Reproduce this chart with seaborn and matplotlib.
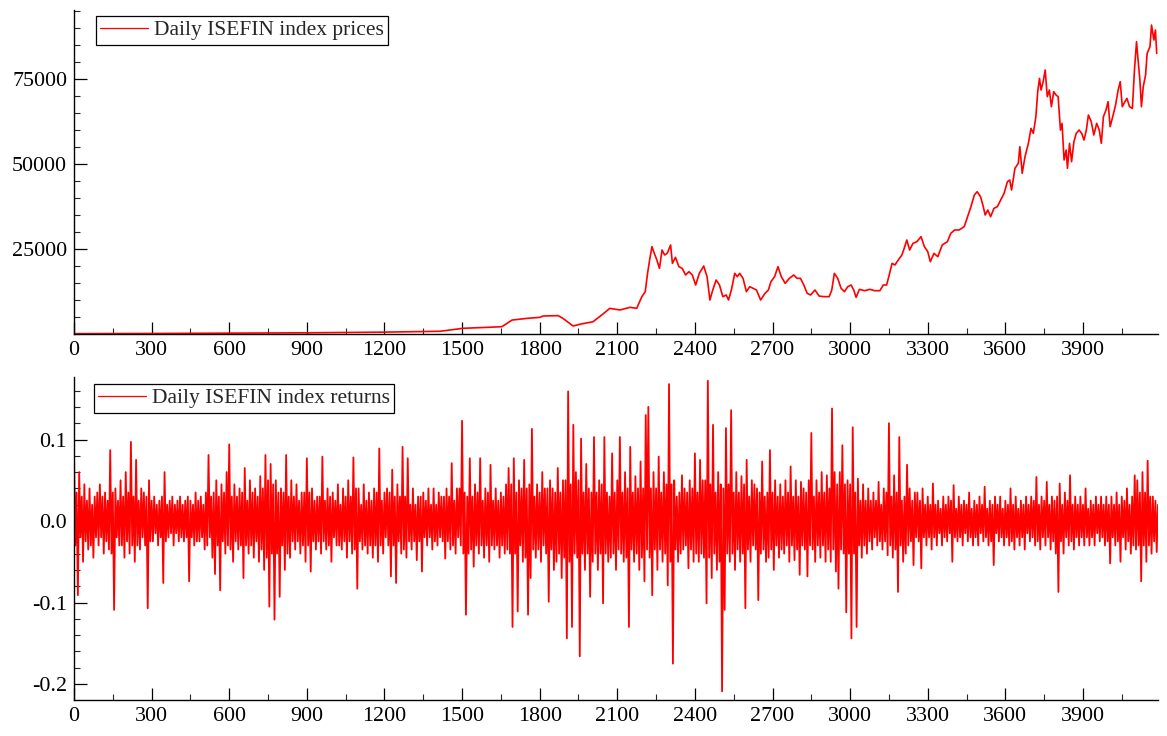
import numpy as np
import pandas as pd
import matplotlib
matplotlib.use("Agg")
import matplotlib.pyplot as plt
from matplotlib.ticker import MultipleLocator, FixedLocator, FixedFormatter
import seaborn as sns

# ---------------- data ----------------
# (day, index price) readings
price_readings = [
    (0, 100), (300, 150), (600, 250), (900, 350), (1050, 450), (1200, 550), (1325, 700),
    (1415, 800), (1504, 1680), (1580, 1900), (1654, 2150), (1693, 4100), (1751, 4600),
    (1801, 4900), (1813, 5300), (1871, 5400), (1890, 4600), (1929, 2350), (1960, 2940),
    (2006, 3600), (2045, 5900), (2071, 7550), (2110, 7060),
    (2149, 7840), (2175, 7550), (2195, 10980), (2208, 12450), (2217, 17840), (2225, 21760),
    (2234, 25690), (2243, 23730), (2253, 21760), (2263, 19310), (2273, 24710), (2283, 23230),
    (2293, 23730), (2306, 26180), (2313, 20780), (2325, 22550), (2338, 19800), (2351, 19310),
    (2364, 17350), (2377, 18330), (2390, 17350), (2403, 14410), (2417, 17840), (2434, 20000),
    (2447, 16860), (2458, 10000), (2469, 12940), (2482, 15880), (2495, 14410), (2508, 10980),
    (2521, 11470), (2530, 10000), (2541, 12940), (2554, 17840), (2564, 16860), (2573, 17840),
    (2586, 16370), (2599, 12450), (2612, 13920), (2625, 13430), (2638, 12940), (2654, 10000),
    (2671, 11960), (2684, 12940), (2694, 15390), (2708, 16860), (2721, 19800), (2734, 16860),
    (2749, 14900), (2765, 16370), (2782, 17350), (2795, 16370), (2808, 16370), (2821, 14410),
    (2834, 11960), (2847, 11470), (2864, 12940), (2880, 11170), (2899, 10980), (2919, 10980),
    (2929, 12940), (2939, 17840), (2952, 16370), (2965, 13430), (2978, 12450), (2991, 13920),
    (3004, 14410), (3014, 12940), (3023, 10780), (3036, 13140), (3056, 12740), (3076, 13140),
    (3095, 12740), (3115, 12740), (3128, 14410), (3141, 14410), (3151, 17350), (3162, 20780),
    (3173, 20290), (3186, 21760), (3200, 23230), (3209, 25190), (3219, 27650), (3230, 24710),
    (3243, 26670), (3258, 27160), (3274, 28630), (3287, 25690), (3300, 24210), (3310, 21270),
    (3324, 23730), (3339, 22740), (3356, 26180), (3376, 27160), (3389, 29610), (3404, 30590),
    (3421, 30590), (3441, 31570), (3454, 34510), (3467, 37450), (3480, 40880), (3491, 41860),
    (3504, 40390), (3513, 37940), (3522, 34990), (3532, 36470), (3543, 34510), (3556, 36960),
    (3569, 37450), (3582, 39410), (3595, 41370), (3608, 44800), (3617, 45290), (3624, 42350),
    (3637, 48730), (3650, 50200), (3656, 55100), (3665, 47250), (3676, 52160), (3689, 56080),
    (3699, 60490), (3708, 59020), (3718, 63920), (3725, 71270), (3732, 75200), (3738, 71760),
    (3746, 74210), (3754, 77650), (3762, 69800), (3770, 71760), (3778, 66860), (3787, 71270),
    (3796, 70290), (3804, 69800), (3813, 59980), (3819, 61960), (3827, 51180), (3835, 54120),
    (3840, 48730), (3848, 56080), (3856, 50690), (3865, 56570), (3874, 59020), (3885, 60000),
    (3895, 59020), (3904, 57060), (3913, 60000), (3921, 64410), (3932, 62450), (3942, 58530),
    (3953, 61960), (3963, 60000), (3971, 56080), (3979, 63920), (3989, 65880), (3997, 68330),
    (4005, 60980), (4015, 63920), (4026, 67350), (4036, 71760), (4044, 74210), (4052, 66860),
    (4062, 68330), (4070, 69310), (4080, 66860), (4091, 66370), (4099, 77650), (4107, 85980),
    (4113, 80590), (4120, 74700), (4126, 66860), (4133, 72750), (4142, 76180), (4148, 82550),
    (4159, 84510), (4165, 90880), (4174, 86470), (4180, 89410), (4185, 82550),
]
price_days = [d for d, _ in price_readings]
price_values = [v for _, v in price_readings]

# daily returns: upper readings of the band at days 0, 10, ... 4190
returns_up = [
    0.085, 0.035, 0.060, 0.030, 0.045, 0.025, 0.040, 0.020, 0.030, 0.035,
    0.045, 0.030, 0.035, 0.025, 0.087, 0.035, 0.040, 0.025, 0.050, 0.030,
    0.060, 0.035, 0.097, 0.030, 0.075, 0.025, 0.040, 0.035, 0.030, 0.050,
    0.025, 0.030, 0.020, 0.025, 0.030, 0.060, 0.020, 0.025, 0.030, 0.020,
    0.025, 0.030, 0.020, 0.025, 0.030, 0.025, 0.020, 0.035, 0.025, 0.030,
    0.020, 0.035, 0.081, 0.030, 0.035, 0.050, 0.030, 0.045, 0.035, 0.060,
    0.094, 0.030, 0.045, 0.030, 0.040, 0.035, 0.065, 0.025, 0.050, 0.035,
    0.040, 0.030, 0.055, 0.040, 0.081, 0.050, 0.070, 0.045, 0.050, 0.035,
    0.040, 0.035, 0.081, 0.030, 0.050, 0.030, 0.045, 0.025, 0.035, 0.035,
    0.077, 0.035, 0.040, 0.025, 0.030, 0.030, 0.079, 0.025, 0.040, 0.030,
    0.035, 0.025, 0.045, 0.020, 0.040, 0.030, 0.050, 0.030, 0.078, 0.040,
    0.040, 0.020, 0.045, 0.025, 0.035, 0.025, 0.040, 0.035, 0.089, 0.025,
    0.035, 0.040, 0.035, 0.063, 0.030, 0.045, 0.030, 0.091, 0.030, 0.077,
    0.020, 0.040, 0.020, 0.030, 0.030, 0.035, 0.025, 0.040, 0.020, 0.040,
    0.020, 0.035, 0.030, 0.030, 0.040, 0.030, 0.071, 0.025, 0.040, 0.040,
    0.123, 0.035, 0.030, 0.077, 0.030, 0.045, 0.035, 0.077, 0.025, 0.040,
    0.035, 0.069, 0.025, 0.040, 0.025, 0.035, 0.030, 0.045, 0.065, 0.045,
    0.077, 0.035, 0.050, 0.040, 0.075, 0.040, 0.045, 0.113, 0.030, 0.045,
    0.035, 0.060, 0.040, 0.040, 0.050, 0.040, 0.035, 0.065, 0.035, 0.050,
    0.050, 0.159, 0.045, 0.118, 0.060, 0.050, 0.101, 0.035, 0.070, 0.040,
    0.035, 0.103, 0.035, 0.050, 0.045, 0.103, 0.035, 0.030, 0.083, 0.035,
    0.050, 0.103, 0.035, 0.060, 0.040, 0.091, 0.035, 0.055, 0.040, 0.073,
    0.040, 0.130, 0.140, 0.040, 0.060, 0.040, 0.079, 0.035, 0.060, 0.045,
    0.168, 0.045, 0.050, 0.030, 0.035, 0.056, 0.040, 0.035, 0.050, 0.040,
    0.083, 0.035, 0.075, 0.050, 0.050, 0.172, 0.045, 0.118, 0.035, 0.060,
    0.045, 0.040, 0.114, 0.045, 0.136, 0.035, 0.060, 0.035, 0.055, 0.045,
    0.075, 0.030, 0.050, 0.045, 0.040, 0.035, 0.073, 0.030, 0.035, 0.087,
    0.035, 0.050, 0.030, 0.045, 0.030, 0.050, 0.035, 0.067, 0.030, 0.050,
    0.030, 0.048, 0.040, 0.035, 0.050, 0.108, 0.030, 0.050, 0.035, 0.060,
    0.035, 0.056, 0.040, 0.138, 0.060, 0.045, 0.060, 0.093, 0.045, 0.050,
    0.045, 0.115, 0.035, 0.052, 0.025, 0.045, 0.025, 0.040, 0.025, 0.035,
    0.025, 0.048, 0.020, 0.040, 0.035, 0.120, 0.030, 0.056, 0.035, 0.103,
    0.025, 0.030, 0.069, 0.040, 0.025, 0.035, 0.035, 0.025, 0.040, 0.020,
    0.030, 0.020, 0.046, 0.020, 0.025, 0.015, 0.030, 0.020, 0.030, 0.025,
    0.044, 0.015, 0.030, 0.020, 0.025, 0.020, 0.035, 0.015, 0.025, 0.020,
    0.030, 0.020, 0.042, 0.015, 0.025, 0.020, 0.030, 0.020, 0.030, 0.015,
    0.025, 0.020, 0.040, 0.020, 0.030, 0.015, 0.025, 0.020, 0.030, 0.020,
    0.030, 0.025, 0.054, 0.020, 0.030, 0.025, 0.048, 0.020, 0.030, 0.025,
    0.030, 0.046, 0.020, 0.035, 0.025, 0.056, 0.020, 0.030, 0.020, 0.030,
    0.020, 0.040, 0.015, 0.025, 0.020, 0.030, 0.020, 0.030, 0.020, 0.030,
    0.020, 0.030, 0.020, 0.035, 0.020, 0.030, 0.025, 0.040, 0.020, 0.030,
    0.056, 0.050, 0.035, 0.060, 0.035, 0.074, 0.030, 0.030, 0.025, 0.020,
]
# daily returns: lower readings of the band at days 5, 15, ... 4195
returns_down = [
    -0.030, -0.091, -0.020, -0.050, -0.025, -0.035, -0.030, -0.045, -0.020, -0.030,
    -0.020, -0.040, -0.025, -0.035, -0.040, -0.109, -0.020, -0.030, -0.030, -0.045,
    -0.025, -0.040, -0.030, -0.050, -0.030, -0.035, -0.020, -0.030, -0.107, -0.025,
    -0.025, -0.015, -0.030, -0.020, -0.076, -0.025, -0.020, -0.015, -0.030, -0.015,
    -0.025, -0.020, -0.025, -0.020, -0.074, -0.020, -0.030, -0.025, -0.025, -0.020,
    -0.035, -0.030, -0.020, -0.045, -0.065, -0.030, -0.085, -0.025, -0.040, -0.030,
    -0.035, -0.050, -0.025, -0.035, -0.030, -0.070, -0.030, -0.040, -0.030, -0.045,
    -0.025, -0.050, -0.035, -0.060, -0.045, -0.105, -0.040, -0.121, -0.040, -0.093,
    -0.030, -0.060, -0.040, -0.045, -0.025, -0.035, -0.025, -0.040, -0.030, -0.050,
    -0.030, -0.062, -0.025, -0.035, -0.025, -0.040, -0.025, -0.035, -0.030, -0.050,
    -0.020, -0.030, -0.030, -0.035, -0.025, -0.045, -0.025, -0.040, -0.035, -0.083,
    -0.025, -0.035, -0.030, -0.040, -0.030, -0.045, -0.030, -0.050, -0.030, -0.040,
    -0.020, -0.030, -0.068, -0.030, -0.076, -0.025, -0.040, -0.035, -0.045, -0.025,
    -0.035, -0.025, -0.048, -0.025, -0.062, -0.020, -0.030, -0.020, -0.035, -0.025,
    -0.030, -0.020, -0.025, -0.046, -0.025, -0.035, -0.030, -0.040, -0.020, -0.030,
    -0.040, -0.115, -0.040, -0.035, -0.056, -0.030, -0.040, -0.030, -0.045, -0.030,
    -0.050, -0.030, -0.035, -0.030, -0.045, -0.030, -0.040, -0.035, -0.040, -0.130,
    -0.040, -0.111, -0.030, -0.050, -0.045, -0.115, -0.070, -0.035, -0.045, -0.035,
    -0.050, -0.030, -0.040, -0.099, -0.035, -0.060, -0.050, -0.040, -0.070, -0.045,
    -0.144, -0.050, -0.130, -0.040, -0.045, -0.166, -0.040, -0.060, -0.040, -0.093,
    -0.050, -0.040, -0.060, -0.040, -0.101, -0.040, -0.050, -0.045, -0.040, -0.060,
    -0.035, -0.040, -0.050, -0.045, -0.130, -0.035, -0.050, -0.040, -0.060, -0.045,
    -0.074, -0.035, -0.045, -0.091, -0.035, -0.060, -0.035, -0.050, -0.040, -0.079,
    -0.050, -0.175, -0.035, -0.050, -0.040, -0.035, -0.030, -0.058, -0.035, -0.050,
    -0.040, -0.050, -0.040, -0.045, -0.101, -0.045, -0.070, -0.040, -0.060, -0.050,
    -0.209, -0.109, -0.040, -0.050, -0.040, -0.060, -0.035, -0.050, -0.040, -0.107,
    -0.035, -0.050, -0.030, -0.035, -0.097, -0.040, -0.035, -0.050, -0.045, -0.035,
    -0.060, -0.030, -0.045, -0.035, -0.040, -0.030, -0.050, -0.030, -0.048, -0.035,
    -0.066, -0.030, -0.035, -0.068, -0.030, -0.035, -0.050, -0.030, -0.045, -0.030,
    -0.050, -0.035, -0.050, -0.035, -0.062, -0.083, -0.035, -0.040, -0.112, -0.040,
    -0.144, -0.040, -0.130, -0.030, -0.045, -0.030, -0.040, -0.025, -0.035, -0.020,
    -0.030, -0.025, -0.035, -0.025, -0.042, -0.030, -0.045, -0.035, -0.087, -0.030,
    -0.050, -0.040, -0.030, -0.025, -0.054, -0.020, -0.025, -0.058, -0.020, -0.030,
    -0.020, -0.035, -0.020, -0.030, -0.015, -0.030, -0.020, -0.025, -0.015, -0.050,
    -0.020, -0.025, -0.020, -0.030, -0.015, -0.025, -0.020, -0.030, -0.020, -0.030,
    -0.015, -0.025, -0.020, -0.030, -0.025, -0.054, -0.015, -0.025, -0.020, -0.030,
    -0.020, -0.030, -0.025, -0.035, -0.020, -0.030, -0.020, -0.035, -0.015, -0.025,
    -0.020, -0.030, -0.025, -0.035, -0.020, -0.030, -0.020, -0.035, -0.025, -0.040,
    -0.087, -0.025, -0.040, -0.020, -0.030, -0.025, -0.035, -0.020, -0.030, -0.020,
    -0.030, -0.020, -0.030, -0.020, -0.030, -0.015, -0.025, -0.020, -0.030, -0.025,
    -0.052, -0.020, -0.030, -0.025, -0.050, -0.020, -0.035, -0.025, -0.040, -0.030,
    -0.035, -0.030, -0.074, -0.030, -0.050, -0.030, -0.040, -0.025, -0.038, -0.020,
]
return_step = 10

price_label = "Daily ISEFIN index prices"
returns_label = "Daily ISEFIN index returns"
x_ticks = [0, 300, 600, 900, 1200, 1500, 1800, 2100, 2400, 2700, 3000, 3300, 3600, 3900]
price_ticks = [25000, 50000, 75000]
return_ticks = [-0.2, -0.1, 0.0, 0.1]
return_tick_labels = ["-0.2", "-0.1", "0.0", "0.1"]

# ---------------- build frames ----------------
price_df = pd.DataFrame({"day": price_days, "value": price_values})
ret_df = pd.concat([
    pd.DataFrame({"day": np.arange(len(returns_up)) * return_step,
                  "value": returns_up}),
    pd.DataFrame({"day": np.arange(len(returns_down)) * return_step + return_step // 2,
                  "value": returns_down}),
]).sort_values("day").reset_index(drop=True)

sns.set_style("ticks")
plt.rcParams["font.family"] = ["Liberation Serif", "DejaVu Serif"]

W, H = 1167, 736
fig = plt.figure(figsize=(W / 100, H / 100), dpi=100)
L, R = 74 / W, 1158 / W
ax1 = fig.add_axes([L, (H - 334) / H, R - L, (334 - 10) / H])
ax2 = fig.add_axes([L, (H - 700) / H, R - L, (700 - 377) / H])

red = "#ff0000"
sns.lineplot(data=price_df, x="day", y="value", ax=ax1, color=red, linewidth=1.2,
             estimator=None, sort=False, label=price_label)
sns.lineplot(data=ret_df, x="day", y="value", ax=ax2, color=red, linewidth=1.3,
             estimator=None, sort=False, label=returns_label)

xmax = 4190
for ax in (ax1, ax2):
    ax.set_xlim(0, xmax)
    ax.set_xlabel("")
    ax.set_ylabel("")
    ax.xaxis.set_major_locator(FixedLocator(x_ticks))
    ax.xaxis.set_minor_locator(MultipleLocator(150))
    ax.tick_params(axis="both", which="major", direction="in", length=9, width=0.9,
                   labelsize=15.8, pad=5, colors="black")
    ax.tick_params(axis="both", which="minor", direction="in", length=4.5, width=0.8)
    for s in ("top", "right"):
        ax.spines[s].set_visible(False)
    for s in ("left", "bottom"):
        ax.spines[s].set_linewidth(1.0)
        ax.spines[s].set_color("black")

ax1.set_ylim(0, 95300)
ax1.yaxis.set_major_locator(FixedLocator(price_ticks))
ax1.yaxis.set_major_formatter(FixedFormatter([str(t) for t in price_ticks]))
ax1.yaxis.set_minor_locator(MultipleLocator(5000))

ax2.set_ylim(-0.2196, 0.1767)
ax2.yaxis.set_major_locator(FixedLocator(return_ticks))
ax2.yaxis.set_major_formatter(FixedFormatter(return_tick_labels))
ax2.yaxis.set_minor_locator(MultipleLocator(0.02))

for ax, dx, dy in ((ax1, 22 / 1084, 1 - 6 / 324), (ax2, 20 / 1084, 1 - 7 / 323)):
    leg = ax.legend(loc="upper left", bbox_to_anchor=(dx, dy), borderaxespad=0,
                    fontsize=15.5, frameon=True, fancybox=False, shadow=False,
                    handlelength=2.2, handletextpad=0.3, borderpad=0.2)
    fr = leg.get_frame()
    fr.set_edgecolor("black")
    fr.set_linewidth(0.9)
    fr.set_alpha(1)
    for ln in leg.get_lines():
        ln.set_linewidth(0.9)

fig.savefig("out.png", dpi=100)
